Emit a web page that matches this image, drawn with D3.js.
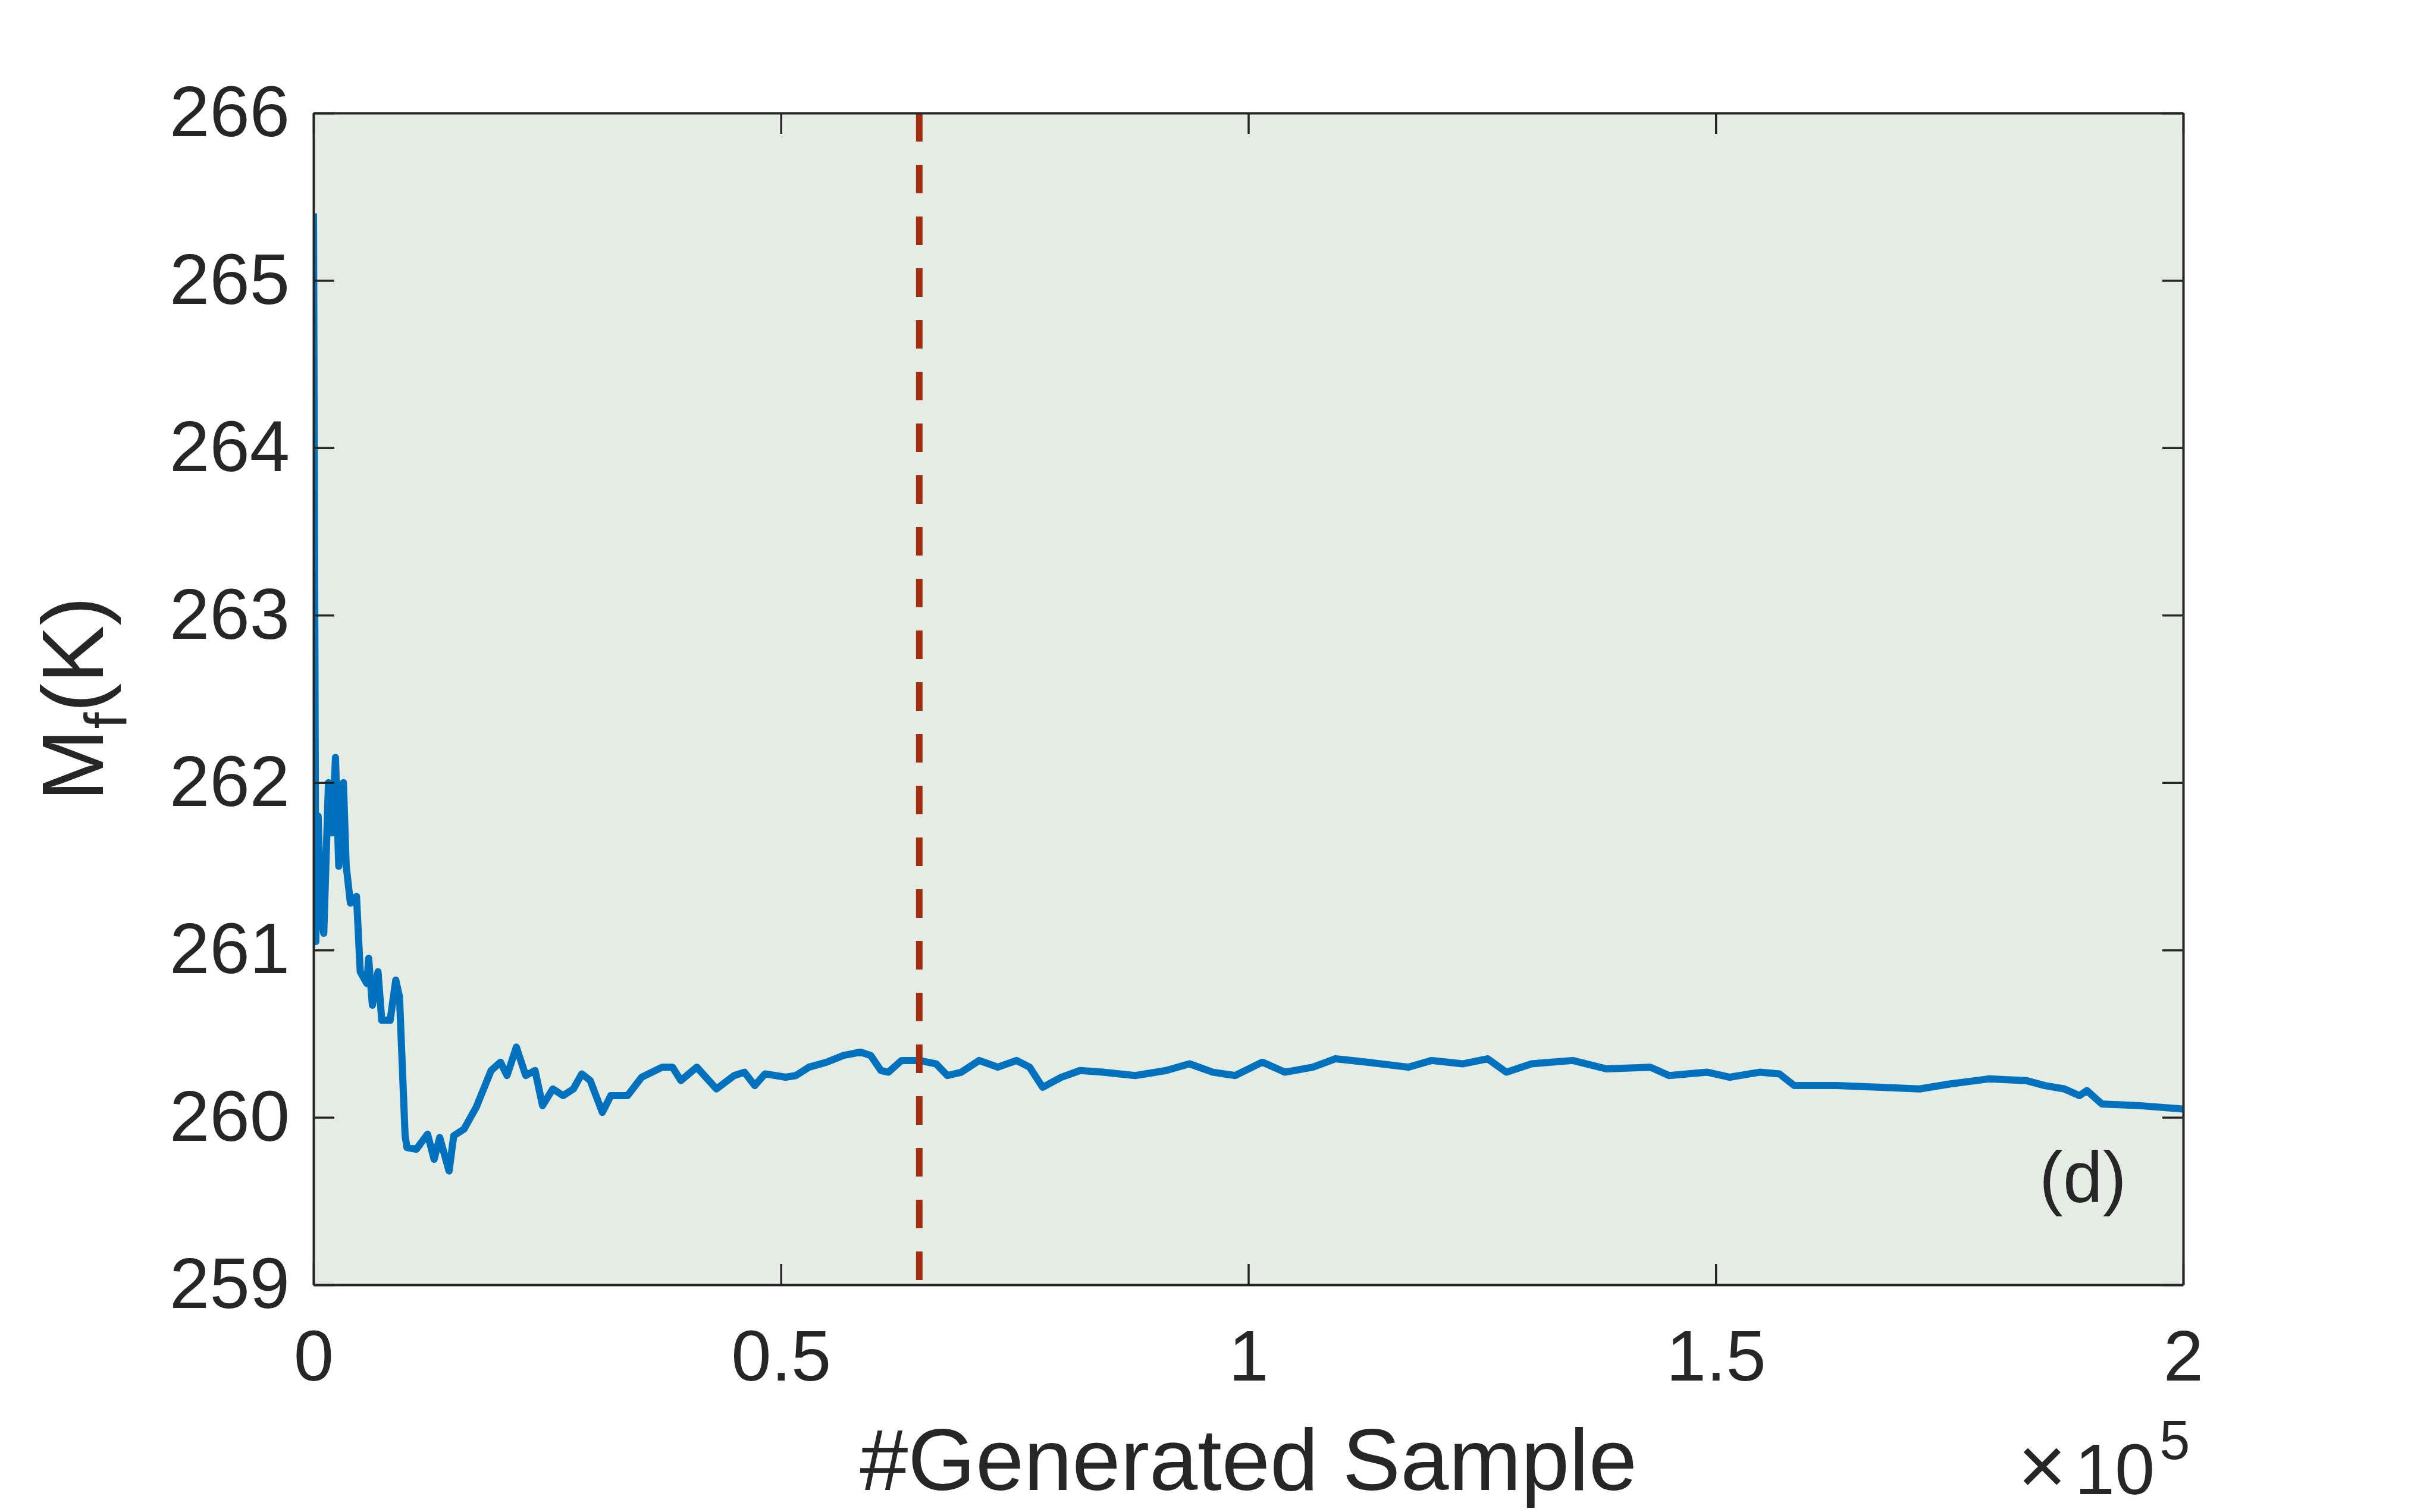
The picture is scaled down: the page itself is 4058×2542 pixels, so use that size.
<!DOCTYPE html>
<html>
<head>
<meta charset="utf-8">
<script src="https://cdn.jsdelivr.net/npm/d3@7"></script>
<style>
  html, body { margin: 0; padding: 0; background: #ffffff; }
  svg { display: block; }
  text { font-family: "Liberation Sans", Arial, Helvetica, sans-serif; fill: #262626; }
</style>
</head>
<body>
<svg id="chart" width="4058" height="2542"></svg>
<script>
// ---- data ----
const sampleIndex = [0, 250, 500, 800, 1100, 1600, 2000, 2350, 2700, 3200, 3500, 3950, 4600, 5000, 5700, 5900, 6300, 6900, 7300, 8200, 8800, 9200, 9800, 10000, 11000, 12200, 12900, 13500, 14500, 15000, 16100, 17400, 19000, 20000, 20700, 21700, 22700, 23700, 24500, 25600, 26700, 27800, 28700, 29600, 30900, 31800, 33600, 35100, 37300, 38400, 39300, 41000, 43100, 45000, 46100, 47200, 48300, 50500, 51600, 53000, 54900, 56700, 58500, 59600, 60700, 61500, 62900, 64800, 66600, 67800, 69300, 71200, 73200, 75200, 76600, 78000, 80000, 82000, 84400, 87900, 91200, 93700, 96200, 98600, 101500, 103900, 106900, 109300, 112700, 117100, 119600, 122900, 125600, 127600, 130300, 134700, 138300, 143000, 145000, 149100, 151500, 154700, 156800, 158400, 162900, 167700, 171800, 175100, 179200, 183200, 185200, 187300, 188900, 189700, 191300, 195400, 200000];
const mfValues = [265.4, 261.05, 261.8, 261.2, 261.1, 262.0, 261.7, 262.15, 261.5, 262.0, 261.5, 261.28, 261.32, 260.87, 260.8, 260.95, 260.67, 260.87, 260.58, 260.58, 260.82, 260.72, 259.89, 259.82, 259.81, 259.9, 259.75, 259.88, 259.68, 259.89, 259.93, 260.06, 260.28, 260.33, 260.25, 260.42, 260.25, 260.28, 260.07, 260.17, 260.13, 260.17, 260.26, 260.22, 260.03, 260.13, 260.13, 260.24, 260.30, 260.30, 260.22, 260.30, 260.17, 260.25, 260.27, 260.19, 260.26, 260.24, 260.25, 260.30, 260.33, 260.37, 260.39, 260.37, 260.28, 260.27, 260.34, 260.34, 260.32, 260.25, 260.27, 260.34, 260.30, 260.34, 260.30, 260.18, 260.24, 260.28, 260.27, 260.25, 260.28, 260.32, 260.27, 260.25, 260.33, 260.27, 260.30, 260.35, 260.33, 260.30, 260.34, 260.32, 260.35, 260.27, 260.32, 260.34, 260.29, 260.30, 260.25, 260.27, 260.24, 260.27, 260.26, 260.19, 260.19, 260.18, 260.17, 260.20, 260.23, 260.22, 260.19, 260.17, 260.13, 260.16, 260.08, 260.07, 260.05];
const burnInSample = 64800;
const xTicks = [0, 50000, 100000, 150000, 200000];
const xTickLabels = ["0", "0.5", "1", "1.5", "2"];
const yTicks = [259, 260, 261, 262, 263, 264, 265, 266];
const yTickLabels = ["259", "260", "261", "262", "263", "264", "265", "266"];
const xLabel = "#Generated Sample";
const panelLabel = "(d)";

// ---- layout ----
const L = 527, R = 3670, T = 190, B = 2160;
const svg = d3.select("#chart");
const x = d3.scaleLinear().domain([0, 200000]).range([L, R]);
const y = d3.scaleLinear().domain([259, 266]).range([B, T]);
const axisColor = "#262626";
const tickLen = 35;

// background of plot area
svg.append("rect").attr("x", L).attr("y", T).attr("width", R - L).attr("height", B - T)
  .attr("fill", "#e4ece3");

// clip
svg.append("defs").append("clipPath").attr("id", "clip")
  .append("rect").attr("x", L).attr("y", T).attr("width", R - L).attr("height", B - T);

const data = sampleIndex.map((d, i) => [d, mfValues[i]]);
const line = d3.line().x(d => x(d[0])).y(d => y(d[1]));

svg.append("path").datum(data)
  .attr("clip-path", "url(#clip)")
  .attr("d", line)
  .attr("fill", "none")
  .attr("stroke", "#0072BD")
  .attr("stroke-width", 12)
  .attr("stroke-linejoin", "round");

// dashed vertical burn-in line
svg.append("line")
  .attr("x1", x(burnInSample)).attr("x2", x(burnInSample))
  .attr("y1", y(266)).attr("y2", y(259))
  .attr("stroke", "#A32E10")
  .attr("stroke-width", 11)
  .attr("stroke-dasharray", "48,39");

// axes (ticks inside, on all four sides)
const fmtX = (d, i) => xTickLabels[i];
const fmtY = (d, i) => yTickLabels[i];

const xBottom = svg.append("g").attr("transform", `translate(0,${B})`)
  .call(d3.axisBottom(x).tickValues(xTicks).tickFormat(fmtX).tickSizeInner(-tickLen).tickSizeOuter(0).tickPadding(75));
const xTop = svg.append("g").attr("transform", `translate(0,${T})`)
  .call(d3.axisTop(x).tickValues(xTicks).tickFormat("").tickSizeInner(-tickLen).tickSizeOuter(0));
const yLeft = svg.append("g").attr("transform", `translate(${L},0)`)
  .call(d3.axisLeft(y).tickValues(yTicks).tickFormat(fmtY).tickSizeInner(-tickLen).tickSizeOuter(0).tickPadding(40));
const yRight = svg.append("g").attr("transform", `translate(${R},0)`)
  .call(d3.axisRight(y).tickValues(yTicks).tickFormat("").tickSizeInner(-tickLen).tickSizeOuter(0));

[xBottom, xTop, yLeft, yRight].forEach(g => {
  g.select(".domain").attr("stroke", axisColor).attr("stroke-width", 4);
  g.selectAll(".tick line").attr("stroke", axisColor).attr("stroke-width", 3.5);
  g.selectAll(".tick text").attr("fill", axisColor)
    .style("font-family", '"Liberation Sans", Arial, sans-serif')
    .style("font-size", "121px");
});
xBottom.selectAll(".tick text").attr("dy", "0.71em");

// x-axis label
svg.append("text").attr("x", (L + R) / 2).attr("y", 2505)
  .attr("text-anchor", "middle").style("font-size", "146px").text(xLabel);

// exponent label x10^5
const expo = svg.append("text").attr("x", 3392).attr("y", 2512)
  .attr("text-anchor", "start").style("font-size", "121px");
expo.append("tspan").style("font-size", "140px").text("\u00D7");
expo.append("tspan").attr("dx", 14).text("10");
expo.append("tspan").attr("dx", 8).attr("dy", -59).style("font-size", "92px").text("5");

// y-axis label M_f(K)
const yl = svg.append("text")
  .attr("transform", `translate(173,${(T + B) / 2}) rotate(-90)`)
  .attr("text-anchor", "middle").style("font-size", "146px");
yl.append("tspan").text("M");
yl.append("tspan").attr("dy", 40).style("font-size", "100px").text("f");
yl.append("tspan").attr("dy", -40).text("(K)");

// panel label
svg.append("text").attr("x", 3428).attr("y", 2020)
  .style("font-size", "120px").text(panelLabel);
</script>
</body>
</html>
